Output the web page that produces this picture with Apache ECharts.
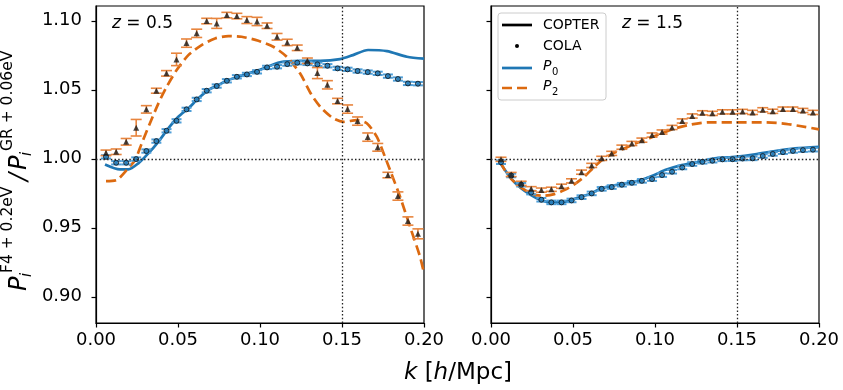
<!DOCTYPE html>
<html>
<head>
<meta charset="utf-8">
<script src="https://cdn.jsdelivr.net/npm/echarts@6/dist/echarts.min.js"></script>
<style>
  html, body { margin: 0; padding: 0; background: #fff; }
  #main { width: 843px; height: 390px; }
</style>
</head>
<body>
<div id="main"></div>
<script>
// k bins of the COLA points (h/Mpc)
var kBins = [0.0061, 0.0123, 0.0184, 0.0245, 0.0307, 0.0368, 0.0430, 0.0491, 0.0552, 0.0614,
    0.0675, 0.0736, 0.0798, 0.0859, 0.0920, 0.0982, 0.1043, 0.1104, 0.1166, 0.1227,
    0.1289, 0.1350, 0.1411, 0.1473, 0.1534, 0.1595, 0.1657, 0.1718, 0.1780, 0.1841,
    0.1902, 0.1963];

// z = 0.5, COLA points
var colaP0z05 = [1.0014, 0.9971, 0.9971, 0.9998, 1.0056, 1.0128, 1.0203, 1.0275, 1.0358, 1.0430,
    1.0493, 1.0527, 1.0565, 1.0594, 1.0611, 1.0630, 1.0662, 1.0667, 1.0686, 1.0696,
    1.0691, 1.0684, 1.0674, 1.0655, 1.0648, 1.0636, 1.0628, 1.0619, 1.0599, 1.0578,
    1.0546, 1.0544];
var errP0z05 = [0.0012, 0.0012, 0.0012, 0.0012, 0.0012, 0.0012, 0.0012, 0.0012, 0.0012, 0.0012,
    0.0012, 0.0012, 0.0012, 0.0012, 0.0012, 0.0012, 0.0012, 0.0012, 0.0012, 0.0012,
    0.0012, 0.0012, 0.0012, 0.0012, 0.0012, 0.0012, 0.0012, 0.0012, 0.0012, 0.0012,
    0.0012, 0.0012];
var colaP2z05 = [1.0043, 1.0051, 1.0123, 1.0225, 1.0358, 1.0493, 1.0619, 1.0720, 1.0838, 1.0909,
    1.0998, 1.0981, 1.1041, 1.1034, 1.1005, 1.0995, 1.0964, 1.0884, 1.0843, 1.0804,
    1.0710, 1.0621, 1.0536, 1.0418, 1.0360, 1.0273, 1.0157, 1.0083, 0.9882, 0.9730,
    0.9549, 0.9456];
var errP2z05 = [0.0020, 0.0020, 0.0024, 0.0060, 0.0027, 0.0018, 0.0020, 0.0045, 0.0030, 0.0030,
    0.0020, 0.0036, 0.0020, 0.0020, 0.0025, 0.0030, 0.0020, 0.0024, 0.0023, 0.0020,
    0.0020, 0.0040, 0.0030, 0.0020, 0.0030, 0.0030, 0.0030, 0.0028, 0.0020, 0.0030,
    0.0030, 0.0036];

// z = 1.5, COLA points
var colaP0z15 = [0.9975, 0.9879, 0.9812, 0.9755, 0.9703, 0.9684, 0.9684, 0.9698, 0.9722, 0.9749,
    0.9782, 0.9795, 0.9812, 0.9826, 0.9840, 0.9853, 0.9882, 0.9906, 0.9937, 0.9962,
    0.9978, 0.9986, 0.9996, 0.9997, 1.0002, 1.0003, 1.0020, 1.0035, 1.0048, 1.0057,
    1.0063, 1.0066];
var errP0z15 = [0.0013, 0.0013, 0.0013, 0.0013, 0.0013, 0.0013, 0.0013, 0.0013, 0.0013, 0.0013,
    0.0013, 0.0013, 0.0013, 0.0013, 0.0013, 0.0013, 0.0013, 0.0013, 0.0013, 0.0013,
    0.0013, 0.0013, 0.0013, 0.0013, 0.0013, 0.0013, 0.0013, 0.0013, 0.0013, 0.0013,
    0.0013, 0.0013];
var colaP2z15 = [0.9996, 0.9886, 0.9822, 0.9783, 0.9773, 0.9779, 0.9801, 0.9840, 0.9903, 0.9952,
    1.0003, 1.0039, 1.0084, 1.0111, 1.0135, 1.0172, 1.0194, 1.0227, 1.0274, 1.0310,
    1.0333, 1.0329, 1.0340, 1.0340, 1.0343, 1.0336, 1.0355, 1.0344, 1.0360, 1.0360,
    1.0350, 1.0336];
var errP2z15 = [0.0015, 0.0015, 0.0015, 0.0015, 0.0015, 0.0015, 0.0015, 0.0015, 0.0015, 0.0015,
    0.0015, 0.0015, 0.0015, 0.0015, 0.0015, 0.0015, 0.0015, 0.0015, 0.0015, 0.0015,
    0.0015, 0.0015, 0.0015, 0.0015, 0.0015, 0.0015, 0.0015, 0.0015, 0.0015, 0.0015,
    0.0015, 0.0015];

// COPTER curves
var copterP0z05K = [0.0055, 0.0146, 0.0197, 0.0258, 0.0319, 0.0380, 0.0441, 0.0502, 0.0563, 0.0624,
    0.0685, 0.0745, 0.0807, 0.0868, 0.0929, 0.1000, 0.1122, 0.1244, 0.1366, 0.1488,
    0.1567, 0.1659, 0.1774, 0.1896, 0.2000];
var copterP0z05 = [0.9959, 0.9923, 0.9923, 0.9967, 1.0039, 1.0123, 1.0220, 1.0304, 1.0365, 1.0438,
    1.0498, 1.0534, 1.0570, 1.0594, 1.0619, 1.0645, 1.0699, 1.0710, 1.0710, 1.0722,
    1.0751, 1.0788, 1.0780, 1.0739, 1.0725];
var copterP2z05K = [0.0061, 0.0126, 0.0187, 0.0238, 0.0279, 0.0329, 0.0380, 0.0431, 0.0492, 0.0563,
    0.0644, 0.0726, 0.0807, 0.0888, 0.0990, 0.1081, 0.1163, 0.1244, 0.1315, 0.1376,
    0.1447, 0.1509, 0.1590, 0.1651, 0.1712, 0.1762, 0.1793, 0.1854, 0.1915, 0.1976,
    0.2000];
var copterP2z05 = [0.9838, 0.9846, 0.9918, 0.9991, 1.0112, 1.0257, 1.0400, 1.0522, 1.0643, 1.0751,
    1.0824, 1.0872, 1.0889, 1.0884, 1.0855, 1.0812, 1.0739, 1.0619, 1.0462, 1.0365,
    1.0293, 1.0268, 1.0280, 1.0257, 1.0160, 1.0014, 0.9918, 0.9725, 0.9507, 0.9290,
    0.9170];
var copterP0z15K = [0.0057, 0.0122, 0.0183, 0.0244, 0.0305, 0.0366, 0.0427, 0.0488, 0.0549, 0.0610,
    0.0671, 0.0732, 0.0793, 0.0854, 0.0915, 0.0996, 0.1061, 0.1163, 0.1264, 0.1366,
    0.1488, 0.1610, 0.1732, 0.1854, 0.2000];
var copterP0z15 = [0.9967, 0.9858, 0.9786, 0.9737, 0.9700, 0.9684, 0.9684, 0.9700, 0.9725, 0.9749,
    0.9786, 0.9802, 0.9817, 0.9829, 0.9846, 0.9882, 0.9918, 0.9954, 0.9978, 1.0003,
    1.0014, 1.0032, 1.0056, 1.0075, 1.0087];
var copterP2z15K = [0.0057, 0.0102, 0.0163, 0.0224, 0.0274, 0.0325, 0.0386, 0.0447, 0.0508, 0.0569,
    0.0630, 0.0691, 0.0752, 0.0813, 0.0874, 0.0935, 0.0996, 0.1041, 0.1122, 0.1224,
    0.1325, 0.1488, 0.1651, 0.1773, 0.1874, 0.2000];
var copterP2z15 = [0.9978, 0.9882, 0.9810, 0.9761, 0.9737, 0.9732, 0.9744, 0.9773, 0.9814, 0.9870,
    0.9942, 1.0003, 1.0043, 1.0075, 1.0107, 1.0135, 1.0164, 1.0184, 1.0220, 1.0249,
    1.0264, 1.0264, 1.0264, 1.0257, 1.0239, 1.0213];

var xTicks = [0, 0.05, 0.10, 0.15, 0.20];
var yTicks = [0.90, 0.95, 1.00, 1.05, 1.10];
var refK = 0.15, refRatio = 1.0;

var FONT = 'DejaVu Sans';
var BLUE = '#1f77b4', BLUE_ERR = '#4f9fd8';
var ORANGE = '#dc6a10', ORANGE_ERR = '#e8853e';

function pairs(xs, ys) {
    return xs.map(function (x, i) { return [x, ys[i]]; });
}
function errRows(vals, errs) {
    return kBins.map(function (k, i) { return [k, vals[i] - errs[i], vals[i] + errs[i]]; });
}
function errorBars(idx, vals, errs, color, capW, lw) {
    return {
        type: 'custom', xAxisIndex: idx, yAxisIndex: idx, silent: true, z: 3,
        data: errRows(vals, errs),
        encode: {x: 0, y: [1, 2]},
        renderItem: function (params, api) {
            var lo = api.coord([api.value(0), api.value(1)]);
            var hi = api.coord([api.value(0), api.value(2)]);
            var st = {stroke: color, lineWidth: lw};
            var h = capW / 2;
            return {
                type: 'group', children: [
                    {type: 'line', shape: {x1: lo[0], y1: lo[1], x2: hi[0], y2: hi[1]}, style: st},
                    {type: 'line', shape: {x1: lo[0] - h, y1: lo[1], x2: lo[0] + h, y2: lo[1]}, style: st},
                    {type: 'line', shape: {x1: hi[0] - h, y1: hi[1], x2: hi[0] + h, y2: hi[1]}, style: st}
                ]
            };
        }
    };
}
function curve(idx, xs, ys, color, dashed) {
    return {
        type: 'line', xAxisIndex: idx, yAxisIndex: idx, data: pairs(xs, ys),
        showSymbol: false, smooth: 0.25, silent: true, z: 2,
        lineStyle: {color: color, width: 2.7, type: dashed ? [10, 5] : 'solid', cap: 'butt'}
    };
}
function points(idx, vals, sym) {
    var tri = sym === 'triangle';
    return {
        type: 'scatter', xAxisIndex: idx, yAxisIndex: idx, data: pairs(kBins, vals),
        symbol: sym, symbolSize: tri ? 6 : 5, silent: true, z: 4,
        itemStyle: tri ? {color: '#1a1a1a'} : {color: BLUE, borderColor: '#111', borderWidth: 1}
    };
}
function refLines(idx) {
    return {
        type: 'line', xAxisIndex: idx, yAxisIndex: idx, data: [], silent: true,
        markLine: {
            silent: true, symbol: 'none', label: {show: false},
            lineStyle: {color: '#222', width: 1.3, type: [1.5, 2.2]},
            data: [{xAxis: refK}, {yAxis: refRatio}]
        }
    };
}

var axisBase = {
    axisLine: {show: true, onZero: false, lineStyle: {color: '#000', width: 1.2}},
    axisTick: {show: true, length: 4.5, lineStyle: {color: '#000', width: 1.2}},
    splitLine: {show: false}
};
function xAxis(idx) {
    return Object.assign({}, axisBase, {
        type: 'value', gridIndex: idx, min: 0, max: 0.2, interval: 0.05,
        axisLabel: {fontFamily: FONT, fontSize: 18, color: '#000', margin: 8,
            formatter: function (v) { return v.toFixed(2); }}
    });
}
function yAxis(idx) {
    return Object.assign({}, axisBase, {
        type: 'value', gridIndex: idx, min: 0.881, max: 1.1107,
        axisTick: {show: true, length: 4.5, lineStyle: {color: '#000', width: 1.2}, customValues: yTicks},
        axisLabel: {show: idx === 0, fontFamily: FONT, fontSize: 18, color: '#000', margin: 14,
            customValues: yTicks, formatter: function (v) { return v.toFixed(2); }}
    });
}

function txt(x, y, s, size, italic, extra) {
    return Object.assign({
        type: 'text', x: x, y: y,
        style: {text: s, fontFamily: FONT, fontSize: size, fontStyle: italic ? 'italic' : 'normal',
            fill: '#000', align: 'left', verticalAlign: 'middle'}
    }, extra || {});
}

var chart = echarts.init(document.getElementById('main'), null, {renderer: 'canvas'});
chart.setOption({
    animation: false,
    backgroundColor: '#fff',
    grid: [
        {left: 96, top: 6, width: 328, height: 317, show: true, borderColor: '#000', borderWidth: 1.2, backgroundColor: 'transparent'},
        {left: 491, top: 6, width: 328, height: 317, show: true, borderColor: '#000', borderWidth: 1.2, backgroundColor: 'transparent'}
    ],
    xAxis: [xAxis(0), xAxis(1)],
    yAxis: [yAxis(0), yAxis(1)],
    series: [
        refLines(0), refLines(1),
        curve(0, copterP0z05K, copterP0z05, BLUE, false),
        curve(0, copterP2z05K, copterP2z05, ORANGE, true),
        curve(1, copterP0z15K, copterP0z15, BLUE, false),
        curve(1, copterP2z15K, copterP2z15, ORANGE, true),
        errorBars(0, colaP0z05, errP0z05, BLUE_ERR, 10, 2),
        errorBars(0, colaP2z05, errP2z05, ORANGE_ERR, 11, 1.6),
        errorBars(1, colaP0z15, errP0z15, BLUE_ERR, 10, 2),
        errorBars(1, colaP2z15, errP2z15, ORANGE_ERR, 11, 1.6),
        points(0, colaP0z05, 'circle'),
        points(0, colaP2z05, 'triangle'),
        points(1, colaP0z15, 'circle'),
        points(1, colaP2z15, 'triangle')
    ],
    graphic: [
        // redshift labels
        {type: 'text', x: 112, y: 24, style: {text: '{i|z} = 0.5', fontFamily: FONT, fontSize: 17, fill: '#000',
            verticalAlign: 'middle', rich: {i: {fontStyle: 'italic', fontFamily: FONT, fontSize: 17}}}},
        {type: 'text', x: 622, y: 24, style: {text: '{i|z} = 1.5', fontFamily: FONT, fontSize: 17, fill: '#000',
            verticalAlign: 'middle', rich: {i: {fontStyle: 'italic', fontFamily: FONT, fontSize: 17}}}},
        // x axis title
        {type: 'text', x: 458, y: 373, style: {text: '{i|k} [{i|h}/Mpc]', fontFamily: FONT, fontSize: 23, fill: '#000',
            align: 'center', verticalAlign: 'middle', rich: {i: {fontStyle: 'italic', fontFamily: FONT, fontSize: 23}}}},
        // y axis title, rotated
        {type: 'group', x: 28, y: 291, rotation: Math.PI / 2, children: [
            txt(0, -8, 'P', 24, true),
            txt(14, -1, 'i', 15, true),
            txt(18, -20, 'F4 + 0.2eV', 15.5, false),
            txt(110, -8, '/', 24, true),
            txt(121, -8, 'P', 24, true),
            txt(135, -1, 'i', 15, true),
            txt(140, -20, 'GR + 0.06eV', 15.5, false)
        ]},
        // legend
        {type: 'rect', shape: {x: 498, y: 13, width: 108, height: 87, r: 3},
            style: {fill: 'rgba(255,255,255,0.8)', stroke: '#cccccc', lineWidth: 1}},
        {type: 'line', shape: {x1: 502, y1: 25, x2: 532, y2: 25}, style: {stroke: '#000', lineWidth: 2.7}},
        {type: 'circle', shape: {cx: 517, cy: 46, r: 2}, style: {fill: '#000'}},
        {type: 'line', shape: {x1: 502, y1: 68, x2: 532, y2: 68}, style: {stroke: BLUE, lineWidth: 2.7}},
        {type: 'line', shape: {x1: 502, y1: 88, x2: 532, y2: 88}, style: {stroke: ORANGE, lineWidth: 2.7, lineDash: [10, 5]}},
        txt(543, 25, 'COPTER', 14, false),
        txt(543, 46, 'COLA', 14, false),
        txt(543, 66, 'P', 14, true),
        txt(552, 72, '0', 10, false),
        txt(543, 86, 'P', 14, true),
        txt(552, 92, '2', 10, false)
    ]
});
</script>
</body>
</html>
